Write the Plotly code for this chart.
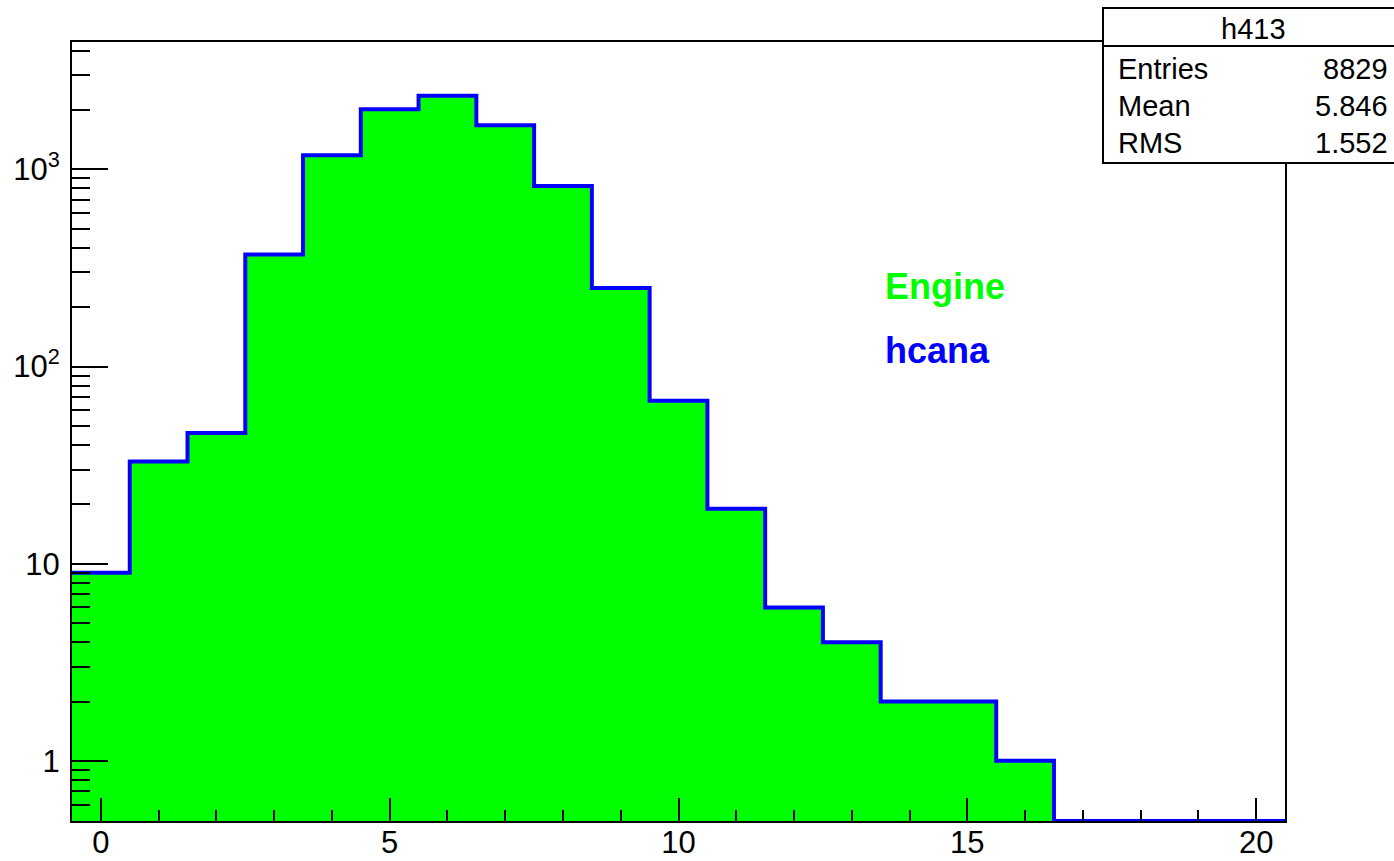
import numpy as np
import plotly.graph_objects as go

# ---------------- data ----------------
bin_centers = list(range(0, 21))
counts = [9, 33, 46, 370, 1178, 2017, 2361, 1672, 823, 250, 67, 19, 6, 4, 2, 2, 1, 0, 0, 0, 0]
bin_width = 1.0

x_major = [0, 5, 10, 15, 20]
x_minor = [v for v in range(0, 21) if v % 5 != 0]
y_major = [1, 10, 100, 1000]
y_major_text = ["1", "10", "10<sup>2</sup>", "10<sup>3</sup>"]
y_minor = [0.6, 0.7, 0.8, 0.9] + [m * 10 ** d for d in range(0, 3) for m in range(2, 10)] + [2000, 3000, 4000]

hist_name = "h413"
stats_labels = ["Entries", "Mean", "RMS"]
stats_values = ["8829", "5.846", "1.552"]
legend_labels = ["Engine", "hcana"]
legend_colors = ["#00ff00", "#0000ff"]

# ---------------- layout geometry ----------------
W, H = 1394, 861
ML, MR, MT, MB = 72, 109, 42, 40
X_RANGE = [-0.5, 20.5]
Y_RANGE_LOG = [-0.305, 3.646]
y_floor = 10 ** Y_RANGE_LOG[0]

pw = W - ML - MR
ph = H - MT - MB


def px_x(px):
    return (px - ML) / pw


def px_y(py):
    return (H - MB - py) / ph


# step outline from bin edges
edges = [c - bin_width / 2 for c in bin_centers] + [bin_centers[-1] + bin_width / 2]
vals = [c if c > 0 else y_floor for c in counts]
step_y = vals + [vals[-1]]

fig = go.Figure()
# baseline for fill
fig.add_trace(go.Scatter(x=[edges[0], edges[-1]], y=[y_floor, y_floor], mode="lines",
                         line=dict(width=0, color="rgba(0,0,0,0)"), hoverinfo="skip", showlegend=False))
# filled green histogram ("Engine")
fig.add_trace(go.Scatter(x=edges, y=step_y, mode="lines", line_shape="hv",
                         line=dict(width=0, color="#00ff00"), fill="tonexty", fillcolor="#00ff00",
                         showlegend=False, name=legend_labels[0]))
# blue outline histogram ("hcana")
fig.add_trace(go.Scatter(x=edges, y=step_y, mode="lines", line_shape="hv",
                         line=dict(width=4, color="#0000ff"), showlegend=False, name=legend_labels[1]))

font_family = "Liberation Sans, Arial, Helvetica, sans-serif"

fig.update_xaxes(range=X_RANGE, showline=True, linecolor="black", linewidth=2, mirror=True,
                 showgrid=False, zeroline=False, automargin=False,
                 tickmode="array", tickvals=x_major, ticktext=[str(v) for v in x_major],
                 ticks="inside", ticklen=23, tickwidth=2, tickcolor="black",
                 minor=dict(tickmode="array", tickvals=x_minor, ticks="inside", ticklen=11,
                            tickwidth=2, tickcolor="black", showgrid=False),
                 tickfont=dict(family=font_family, size=31, color="black"),
                 ticklabelstandoff=-7)
fig.update_yaxes(type="log", range=Y_RANGE_LOG, showline=True, linecolor="black", linewidth=2, mirror=True,
                 showgrid=False, zeroline=False, automargin=False,
                 tickmode="array", tickvals=y_major, ticktext=y_major_text,
                 ticks="inside", ticklen=36, tickwidth=2, tickcolor="black",
                 minor=dict(tickmode="array", tickvals=y_minor, ticks="inside", ticklen=18,
                            tickwidth=2, tickcolor="black", showgrid=False),
                 tickfont=dict(family=font_family, size=31, color="black"),
                 ticklabelstandoff=4)

# stats box
bx0, bx1 = px_x(1103), px_x(1400)
by_top, by_sep, by_bot = px_y(8), px_y(46), px_y(163)
fig.add_shape(type="rect", xref="paper", yref="paper", x0=bx0, x1=bx1, y0=by_bot, y1=by_top,
              line=dict(color="black", width=2), fillcolor="white", layer="above")
fig.add_shape(type="line", xref="paper", yref="paper", x0=bx0, x1=bx1, y0=by_sep, y1=by_sep,
              line=dict(color="black", width=2), layer="above")

annotations = [dict(text=hist_name, x=px_x(1253), y=px_y(29), xanchor="center", yanchor="middle")]
row_centers = [69, 106, 143]
for lab, val, yc in zip(stats_labels, stats_values, row_centers):
    annotations.append(dict(text=lab, x=px_x(1116), y=px_y(yc), xanchor="left", yanchor="middle"))
    annotations.append(dict(text=val, x=px_x(1390), y=px_y(yc), xanchor="right", yanchor="middle"))
for a in annotations:
    a.update(xref="paper", yref="paper", showarrow=False,
             font=dict(family=font_family, size=29, color="black"))

for lab, col, yc in zip(legend_labels, legend_colors, [286, 350]):
    annotations.append(dict(text="<b>%s</b>" % lab, x=px_x(883), y=px_y(yc), xref="paper", yref="paper",
                            xanchor="left", yanchor="middle", showarrow=False,
                            font=dict(family=font_family, size=36, color=col)))

fig.update_layout(width=W, height=H, margin=dict(l=ML, r=MR, t=MT, b=MB, pad=0, autoexpand=False),
                  paper_bgcolor="white", plot_bgcolor="white", annotations=annotations,
                  showlegend=False)

fig.write_html("out.html", config={"displayModeBar": False},
               post_script="document.body.style.margin='0px';document.body.style.overflow='hidden';")
